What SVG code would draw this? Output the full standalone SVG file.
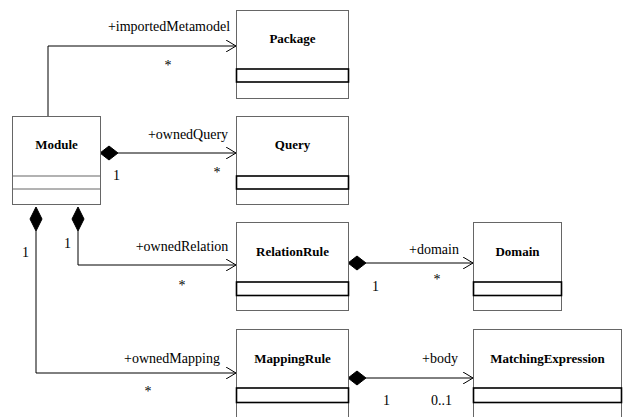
<svg xmlns="http://www.w3.org/2000/svg" width="624" height="417" viewBox="0 0 624 417">
<defs>
<style>
.box{fill:#fff;stroke:#666;stroke-width:1}
.comp{fill:#fff;stroke:#000;stroke-width:1.6}
text{font-family:'Liberation Serif','Times New Roman','DejaVu Serif',Times,serif;font-size:14px;fill:#000}
.name{font-size:13px;font-weight:bold;text-anchor:middle}
.mid{text-anchor:middle}
.ln{fill:none;stroke:#000;stroke-width:1}
.dia{fill:#000;stroke:#000;stroke-width:1}
</style>
<marker id="arr" viewBox="0 0 10 12" refX="10" refY="6" markerWidth="10" markerHeight="12" markerUnits="userSpaceOnUse" orient="auto">
<path d="M0,0 L10,6 L0,12" fill="none" stroke="#000" stroke-width="1"/>
</marker>
</defs>
<rect width="624" height="417" fill="#fff"/>
<g id="connectors">
<path class="ln" d="M48,116 V46 H236" marker-end="url(#arr)"/>
<path class="ln" d="M118,153 H236" marker-end="url(#arr)"/>
<path class="dia" d="M100,153 L109,146 L118,153 L109,160 Z"/>
<path class="ln" d="M78,231 V265 H236" marker-end="url(#arr)"/>
<path class="dia" d="M78,207 L84,219 L78,231 L72,219 Z"/>
<path class="ln" d="M36,231 V373 H236" marker-end="url(#arr)"/>
<path class="dia" d="M36,207 L42,219 L36,231 L30,219 Z"/>
<path class="ln" d="M366,263 H473" marker-end="url(#arr)"/>
<path class="dia" d="M348,263 L357,256 L366,263 L357,270 Z"/>
<path class="ln" d="M366,378 H473" marker-end="url(#arr)"/>
<path class="dia" d="M348,378 L357,371 L366,378 L357,385 Z"/>
<text class="mid" x="169" y="31">+importedMetamodel</text>
<text class="mid" x="168" y="70">*</text>
<text class="mid" x="188" y="139">+ownedQuery</text>
<text x="113" y="180">1</text>
<text class="mid" x="217" y="177">*</text>
<text class="mid" x="182" y="251">+ownedRelation</text>
<text x="64" y="248">1</text>
<text x="22" y="257">1</text>
<text class="mid" x="182" y="290">*</text>
<text class="mid" x="172" y="363">+ownedMapping</text>
<text class="mid" x="148" y="396">*</text>
<text class="mid" x="434" y="254">+domain</text>
<text x="372" y="291">1</text>
<text class="mid" x="437" y="284">*</text>
<text class="mid" x="440" y="363">+body</text>
<text x="383" y="405">1</text>
<text x="431" y="405">0..1</text>
</g>
<g id="Package">
<rect class="box" x="236.5" y="10.5" width="112" height="88"/>
<rect class="comp" x="236.5" y="69" width="112" height="13"/>
<text class="name" x="292.5" y="43">Package</text>
</g>
<g id="Module">
<rect class="box" x="12.5" y="116.5" width="88" height="88"/>
<rect class="box" x="12.5" y="176" width="88" height="13"/>
<text class="name" x="56.5" y="149">Module</text>
</g>
<g id="Query">
<rect class="box" x="236.5" y="116.5" width="112" height="88"/>
<rect class="comp" x="236.5" y="176" width="112" height="13"/>
<text class="name" x="292.5" y="149">Query</text>
</g>
<g id="RelationRule">
<rect class="box" x="236.5" y="222.5" width="112" height="88"/>
<rect class="comp" x="236.5" y="282" width="112" height="13.5"/>
<text class="name" x="292.5" y="256">RelationRule</text>
</g>
<g id="Domain">
<rect class="box" x="473.5" y="222.5" width="88" height="88"/>
<rect class="comp" x="473.5" y="282" width="88" height="13.5"/>
<text class="name" x="517.5" y="256">Domain</text>
</g>
<g id="MappingRule">
<rect class="box" x="236.5" y="329.5" width="112" height="100"/>
<rect class="comp" x="236.5" y="388" width="112" height="14.5"/>
<text class="name" x="292.5" y="363">MappingRule</text>
</g>
<g id="MatchingExpression">
<rect class="box" x="473.5" y="329.5" width="148" height="100"/>
<rect class="comp" x="473.5" y="388" width="148" height="14.5"/>
<text class="name" x="547.5" y="363">MatchingExpression</text>
</g>
</svg>
